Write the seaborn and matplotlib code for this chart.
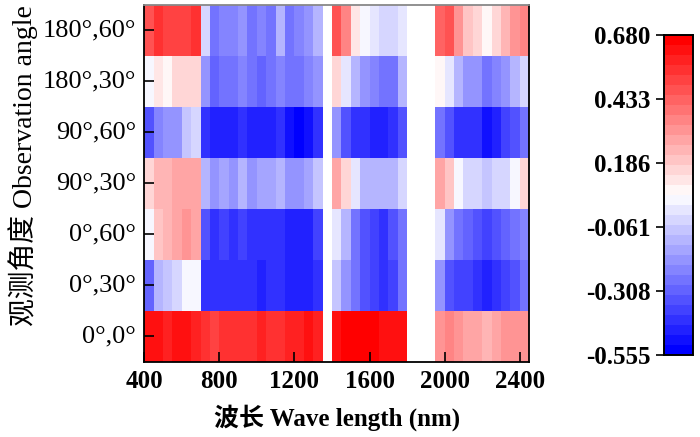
import numpy as np
import pandas as pd
import matplotlib
matplotlib.use("Agg")
import matplotlib.pyplot as plt
import seaborn as sns

# DONNEES (lues sur la figure, pas de 50 nm, nan = bandes d'absorption)

nan = np.nan
wavelengths = list(range(400, 2450, 50))  # debut de chaque bande de 50 nm
angles = ["180°,60°", "180°,30°", "90°,60°", "90°,30°", "0°,60°", "0°,30°", "0°,0°"]

r_180_60 = [0.47, 0.56, 0.50, 0.52, 0.52, 0.53, -0.05, -0.25, -0.23, -0.23, -0.18, -0.25, -0.24, -0.25,
            -0.13, -0.25, -0.23, -0.18, -0.13, nan, 0.47, 0.36, 0.12, 0.03, 0.00, -0.03, -0.03, 0.02,
            nan, nan, nan, 0.43, 0.45, 0.30, 0.19, 0.14, 0.10, 0.15, 0.22, 0.31, 0.34]
r_180_30 = [0.03, 0.11, 0.07, 0.15, 0.16, 0.16, -0.20, -0.30, -0.28, -0.28, -0.23, -0.28, -0.30, -0.25,
            -0.23, -0.28, -0.25, -0.23, -0.18, nan, 0.14, 0.02, -0.10, -0.20, -0.23, -0.28, -0.25, -0.13,
            nan, nan, nan, 0.08, 0.00, -0.13, -0.20, -0.20, -0.28, -0.23, -0.18, -0.13, -0.05]
r_90_60 = [-0.33, -0.23, -0.18, -0.20, -0.08, -0.03, -0.41, -0.45, -0.45, -0.45, -0.42, -0.46, -0.47, -0.46,
           -0.41, -0.51, -0.52, -0.50, -0.41, nan, -0.18, -0.33, -0.41, -0.43, -0.47, -0.46, -0.43, -0.36,
           nan, nan, nan, -0.28, -0.36, -0.42, -0.43, -0.42, -0.49, -0.45, -0.38, -0.33, -0.28]
r_90_30 = [0.14, 0.24, 0.22, 0.26, 0.29, 0.26, -0.13, -0.20, -0.15, -0.18, -0.13, -0.18, -0.15, -0.15,
           -0.10, -0.18, -0.17, -0.15, -0.08, nan, 0.29, 0.14, 0.01, -0.10, -0.10, -0.10, -0.10, -0.03,
           nan, nan, nan, 0.29, 0.19, 0.05, -0.02, -0.05, -0.08, -0.05, -0.02, 0.04, 0.15]
r_0_60 = [0.03, 0.19, 0.24, 0.29, 0.31, 0.29, -0.33, -0.41, -0.40, -0.41, -0.37, -0.42, -0.43, -0.41,
          -0.41, -0.46, -0.47, -0.46, -0.38, nan, 0.00, -0.13, -0.28, -0.33, -0.38, -0.41, -0.36, -0.25,
          nan, nan, nan, 0.01, -0.18, -0.28, -0.30, -0.33, -0.37, -0.36, -0.30, -0.28, -0.23]
r_0_30 = [-0.30, -0.13, -0.08, -0.05, 0.03, 0.05, -0.41, -0.43, -0.42, -0.43, -0.41, -0.43, -0.45, -0.42,
          -0.41, -0.46, -0.47, -0.46, -0.41, nan, -0.08, -0.18, -0.28, -0.33, -0.38, -0.41, -0.37, -0.28,
          nan, nan, nan, -0.18, -0.33, -0.37, -0.38, -0.41, -0.45, -0.42, -0.38, -0.33, -0.28]
r_0_0 = [0.61, 0.63, 0.60, 0.62, 0.61, 0.60, 0.53, 0.51, 0.53, 0.55, 0.53, 0.56, 0.57, 0.56,
         0.55, 0.57, 0.60, 0.61, 0.58, nan, 0.63, 0.66, 0.67, 0.68, 0.66, 0.63, 0.62, 0.61,
         nan, nan, nan, 0.31, 0.34, 0.31, 0.29, 0.26, 0.25, 0.27, 0.31, 0.33, 0.31]

x_ticks = [400, 800, 1200, 1600, 2000, 2400]
cbar_ticks = [-0.555, -0.308, -0.061, 0.186, 0.433, 0.680]

df = pd.DataFrame([r_180_60, r_180_30, r_90_60, r_90_30, r_0_60, r_0_30, r_0_0],
                  index=angles, columns=wavelengths)

# POLICES
plt.rcParams['font.family'] = ['Liberation Serif', 'Noto Sans CJK SC']
plt.rcParams['font.size'] = 18

fig = plt.figure(figsize=(7, 4.37), dpi=100)
ax = fig.add_axes([0.206, 0.172, 0.550, 0.817])
cax = fig.add_axes([0.949, 0.188, 0.041, 0.732])

sns.heatmap(df, ax=ax, cbar_ax=cax, cmap=plt.get_cmap('bwr', 32),
            vmin=-0.555, vmax=0.680, linewidths=0, rasterized=True)

# axes du heatmap : positions en indice de colonne
ax.set_xticks([(w - 400) / 50 for w in x_ticks])
ax.set_xticklabels([str(w) for w in x_ticks], rotation=0, fontweight='bold', fontsize=18)
ax.set_yticklabels(angles, rotation=0, fontsize=19)
ax.tick_params(direction='in', length=7, width=1.2, pad=6, top=False, right=False)
ax.set_xlabel("波长 Wave length (nm)", fontweight='bold', fontsize=18, labelpad=8)
ax.set_ylabel("观测角度 Observation angle", fontsize=20)
ax.yaxis.set_label_coords(-0.275, 0.549)
for side, s in ax.spines.items():
    s.set_visible(True)
    s.set_linewidth(1.3)
    s.set_color('black')
ax.spines['top'].set_color('#888888')

# barre de couleur
cax.set_yticks(cbar_ticks)
cax.set_yticklabels([f"{v:.3f}" for v in cbar_ticks], fontweight='bold', fontsize=18)
cax.yaxis.set_ticks_position('left')
cax.yaxis.set_label_position('left')
cax.tick_params(direction='out', length=6, width=1.2, pad=4)
for s in cax.spines.values():
    s.set_visible(True)
    s.set_linewidth(1.2)
    s.set_color('black')

fig.savefig("out.png", dpi=100)
plt.close()
